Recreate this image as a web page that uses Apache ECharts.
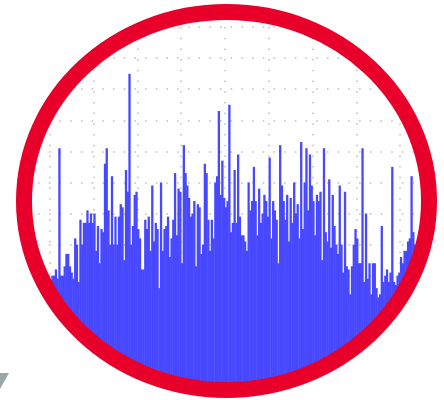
<!DOCTYPE html>
<html>
<head>
<meta charset="utf-8">
<script src="https://cdn.jsdelivr.net/npm/echarts@6/dist/echarts.min.js"></script>
<style>html,body{margin:0;padding:0;background:#fff;}#c{width:444px;height:400px;}</style>
</head>
<body>
<div id="c"></div>
<script>
// Category indices (one bar per sample)
const categories = [];
for (let i = 0; i < 250; i++) categories.push(String(i + 1));

// Bar values (hidden bars outside the ring are estimates)
const valuesA = [34, 37, 33, 38, 36, 35, 39, 34, 37, 36, 40, 35, 38, 36, 39, 37, 35, 38, 36, 40, 37, 39, 36, 38,
  38, 38, 40, 40, 42, 39, 81, 40, 40, 43, 47, 47, 43, 41, 39, 52, 50, 38, 58, 50, 57, 57, 61, 57, 60, 57,
  60, 48, 56, 44, 55, 54, 76, 81, 61, 50, 72, 50, 59, 50, 59, 63, 62, 45, 74, 67, 105, 50, 56, 66, 67, 55,
  52, 42, 42, 58, 55, 59, 48, 69, 51, 57, 55, 36, 70, 48, 55, 56, 59, 46, 52, 58, 73, 53, 68, 67];
const valuesB = [44, 82, 73, 69, 65, 59, 60, 64, 43, 63, 62, 47, 50, 76, 73, 58, 48, 58, 52, 70, 72, 93, 66,
  77, 65, 62, 64, 95, 54, 57, 74, 57, 79, 59, 53, 53, 51, 48, 70, 61, 64, 75, 64, 53, 68, 57, 60, 66, 64,
  59, 78, 52, 64, 61, 58, 44, 82, 69, 64, 58, 66, 51, 65, 57, 70, 60, 63, 52, 83, 55, 70, 81, 61, 79, 69,
  64, 53, 66, 64, 67, 45, 81, 54, 51, 71, 49, 66, 56, 50, 47, 69, 50, 41, 67, 43, 42, 34, 43, 50, 55];
const valuesC = [52, 44, 44, 81, 38, 60, 39, 44, 34, 44, 44, 36, 33, 34, 56, 38, 40, 42, 38, 41, 75, 38, 37,
  40, 41, 46, 44, 48, 48, 51, 52, 72, 54, 50, 47, 50, 45, 49, 52, 46, 48, 44, 50, 47, 43, 49, 46, 48, 45, 47];
const values = valuesA.concat(valuesB, valuesC);

// Value axis range
const yMax = 120;
const yInterval = 10;

const K = 0.5522847498;
const MaskShape = echarts.graphic.extendShape({
  shape: { cx: 0, cy: 0, rx: 1, ry: 1, w: 444, h: 400 },
  buildPath: function (ctx, s) {
    ctx.moveTo(-20, -20);
    ctx.lineTo(s.w + 20, -20);
    ctx.lineTo(s.w + 20, s.h + 20);
    ctx.lineTo(-20, s.h + 20);
    ctx.closePath();
    const cx = s.cx, cy = s.cy, rx = s.rx, ry = s.ry;
    ctx.moveTo(cx + rx, cy);
    ctx.bezierCurveTo(cx + rx, cy - K * ry, cx + K * rx, cy - ry, cx, cy - ry);
    ctx.bezierCurveTo(cx - K * rx, cy - ry, cx - rx, cy - K * ry, cx - rx, cy);
    ctx.bezierCurveTo(cx - rx, cy + K * ry, cx - K * rx, cy + ry, cx, cy + ry);
    ctx.bezierCurveTo(cx + K * rx, cy + ry, cx + rx, cy + K * ry, cx + rx, cy);
    ctx.closePath();
  }
});
const RingShape = echarts.graphic.extendShape({
  shape: { cx: 0, cy: 0, rx: 1, ry: 1 },
  buildPath: function (ctx, s) {
    const cx = s.cx, cy = s.cy, rx = s.rx, ry = s.ry;
    ctx.moveTo(cx + rx, cy);
    ctx.bezierCurveTo(cx + rx, cy + K * ry, cx + K * rx, cy + ry, cx, cy + ry);
    ctx.bezierCurveTo(cx - K * rx, cy + ry, cx - rx, cy + K * ry, cx - rx, cy);
    ctx.bezierCurveTo(cx - rx, cy - K * ry, cx - K * rx, cy - ry, cx, cy - ry);
    ctx.bezierCurveTo(cx + K * rx, cy - ry, cx + rx, cy - K * ry, cx + rx, cy);
    ctx.closePath();
  }
});
echarts.graphic.registerShape('ellipseMask', MaskShape);
echarts.graphic.registerShape('ellipseRing', RingShape);

const chart = echarts.init(document.getElementById('c'), null, { renderer: 'canvas' });
const ell = { cx: 226.5, cy: 201, rx: 202.5, ry: 189 };
chart.setOption({
  animation: false,
  backgroundColor: '#fff',
  grid: { left: 6, top: 27, width: 442, height: 386 },
  xAxis: {
    type: 'category',
    data: categories,
    axisLine: { show: false },
    axisTick: { show: false },
    axisLabel: { show: false },
    splitLine: { show: true, interval: 24, lineStyle: { color: '#bdbdbd', width: 1.5, type: [1.5, 9.2] } }
  },
  yAxis: {
    type: 'value',
    min: 0,
    max: yMax,
    interval: yInterval,
    axisLine: { show: false },
    axisTick: { show: false },
    axisLabel: { show: false },
    splitLine: { show: true, lineStyle: { color: '#bdbdbd', width: 1.5, type: [1.5, 9.2] } }
  },
  series: [{
    type: 'bar',
    data: values,
    barWidth: 2.3,
    itemStyle: { color: '#4848ff' }
  }],
  graphic: [
    { type: 'ellipseMask', z: 100, silent: true, shape: Object.assign({ w: 444, h: 400 }, ell), style: { fill: '#ffffff' } },
    { type: 'ellipseRing', z: 101, silent: true, shape: ell, style: { fill: null, stroke: '#e8002a', lineWidth: 16 } },
    { type: 'polygon', z: 102, silent: true, shape: { points: [[0, 373], [9, 373], [0, 389]] }, style: { fill: '#9aa6a9' } }
  ]
});
</script>
</body>
</html>
